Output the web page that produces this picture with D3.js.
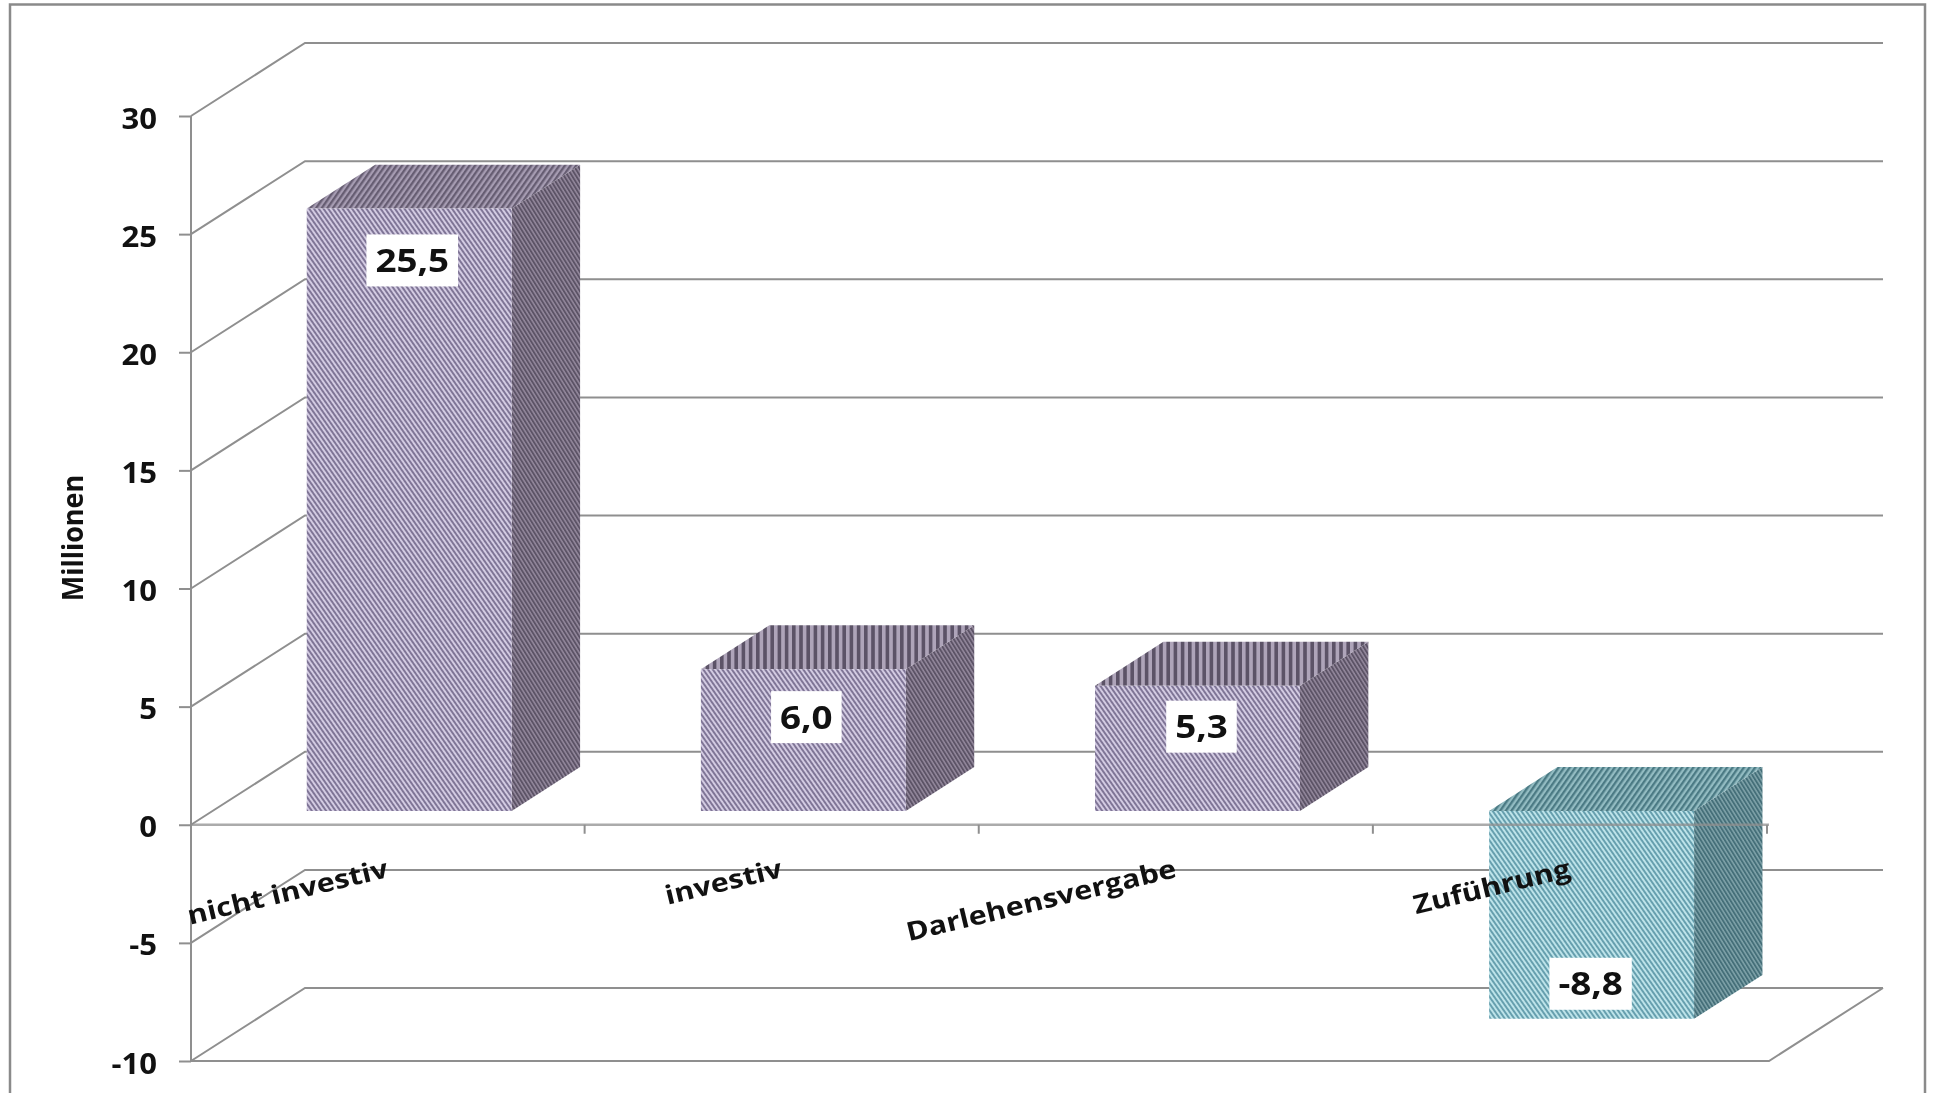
<!DOCTYPE html>
<html><head><meta charset="utf-8">
<script src="https://cdn.jsdelivr.net/npm/d3@7/dist/d3.min.js"></script>
<style>
html,body{margin:0;padding:0;background:#fff;overflow:hidden}
svg{display:block;filter:blur(.5px)}
text{font-family:"Open Sans",sans-serif;font-weight:700;fill:#111}
</style></head><body>
<svg id="c" width="1933" height="1093"></svg>
<script>
const categories = ["nicht investiv","investiv","Darlehensvergabe","Zuführung"];
const values = [25.5, 6.0, 5.3, -8.8];
const valueLabels = ["25,5","6,0","5,3","-8,8"];
const yTicks = [30,25,20,15,10,5,0,-5,-10];
const yTitle = "Millionen";

const W=1933,H=1093, L=190.5, R=1767, T=116, B=1061;
const DX=114, DY=73, D0=.19, D1=.79, GRID="#8f8f8f";
const svg=d3.select("#c");
const defs=svg.append("defs");
const y=d3.scaleLinear().domain([-10,30]).range([B,T]);
const x=d3.scaleBand().domain(categories).range([L,R]).paddingInner(.48).paddingOuter(.24);
const P=(px,py,d)=>[px+d*DX,py-d*DY];
const poly=pts=>pts.map(p=>p.join(",")).join(" ");

function hatch(id,light,dark,angle,period,duty){
  const p=defs.append("pattern").attr("id",id).attr("patternUnits","userSpaceOnUse")
    .attr("width",period).attr("height",period).attr("patternTransform",`rotate(${angle})`);
  p.append("rect").attr("width",period).attr("height",period).attr("fill",light);
  p.append("rect").attr("width",period*duty).attr("height",period).attr("fill",dark);
}
hatch("pf","#d3cbe2","#7f7596",-35,3.9,.5);
hatch("pt","#a69cb2","#665d72",35,4.6,.5);
hatch("pv","#aea4b9","#5c5367",0,7.2,.5);
hatch("ps","#94899d","#5c5366",-32,3.4,.55);
hatch("nf","#bde3e9","#669fae",-35,3.9,.5);
hatch("nt","#93bcc2","#4b7a84",35,4.6,.5);
hatch("ns","#80a3aa","#456f79",-32,3.4,.55);

svg.append("rect").attr("width",W).attr("height",H).attr("fill","#fff");
// frame
svg.append("path").attr("d",`M10,${H+5}V4.5H1925V${H+5}`).attr("fill","none").attr("stroke","#8a8a8a").attr("stroke-width",2.5);

// walls: back gridlines + side diagonals
const g=svg.append("g").attr("fill","none").attr("stroke",GRID).attr("stroke-width",2);
yTicks.forEach(t=>{
  const a=P(L+.5,y(t),0), b=P(L+.5,y(t),1), c=P(R+2,y(t),1);
  g.append("polyline").attr("points",poly([a,b,c]));
});
// floor
g.append("polyline").attr("points",poly([[L,y(-10)],P(R+2,y(-10),0),P(R+2,y(-10),1)]));

// y axis
const ax=svg.append("g").attr("transform",`translate(${L+.5},0)`)
  .call(d3.axisLeft(y).tickValues(yTicks).tickSize(12).tickPadding(23).tickFormat(d=>String(d)));
ax.selectAll("path,line").attr("stroke",GRID).attr("stroke-width",2);
ax.select("path").attr("d",`M0,${y(30)}V${y(-10)}`);
ax.selectAll("text").attr("x",null).attr("dy",null).attr("text-anchor","end")
  .style("font-size","28px")
  .attr("transform","translate(-34,12) scale(1.11,1)");
ax.attr("font-family",null).attr("font-size",null);

// bars
const bars=svg.append("g").selectAll("g").data(values).join("g");
bars.each(function(v,i){
  const c=categories[i], sel=d3.select(this), neg=v<0;
  const x0=x(c), x1=x0+x.bandwidth();
  const yTop=y(Math.max(v,0)), yBot=y(Math.min(v,0));
  const topFill=neg?"url(#nt)":(i===0?"url(#pt)":"url(#pv)");
  sel.append("polygon").attr("fill",neg?"url(#ns)":"url(#ps)")
    .attr("points",poly([P(x1,yTop,D0),P(x1,yTop,D1),P(x1,yBot,D1),P(x1,yBot,D0)]));
  sel.append("polygon").attr("fill",topFill)
    .attr("points",poly([P(x0,yTop,D0),P(x0,yTop,D1),P(x1,yTop,D1),P(x1,yTop,D0)]));
  sel.append("polygon").attr("fill",neg?"url(#nf)":"url(#pf)")
    .attr("points",poly([P(x0,yTop,D0),P(x1,yTop,D0),P(x1,yBot,D0),P(x0,yBot,D0)]));
});

// front zero axis with category tick marks
svg.append("line").attr("x1",L).attr("x2",R+2).attr("y1",y(0)).attr("y2",y(0))
  .attr("stroke",GRID).attr("stroke-width",2.5).attr("stroke-opacity",.75);
categories.forEach(c=>{
  const xt=x(c)+x.bandwidth()+x.paddingOuter()*x.step();
  svg.append("line").attr("x1",xt).attr("x2",xt).attr("y1",y(0)).attr("y2",y(0)+9)
    .attr("stroke",GRID).attr("stroke-width",2);
});

// value labels: placement nudges relative to the bar's free end
const labelInset=[52,48,41,-35], labelShift=[3,3,4,-1];
values.forEach((v,i)=>{
  const cx=x(categories[i])+x.bandwidth()/2+D0*DX+labelShift[i];
  const cy=y(v)+labelInset[i]-D0*DY;
  const lg=svg.append("g").attr("transform",`translate(${cx},${cy})`);
  const r=lg.append("rect").attr("fill","#fff");
  const t=lg.append("text").text(valueLabels[i]).attr("text-anchor","middle")
    .style("font-size","32px").attr("transform","translate(0,11.5) scale(1.15,1)");
  const w=t.node().getComputedTextLength()*1.15+18;
  r.attr("x",-w/2).attr("y",-26).attr("width",w).attr("height",52);
});

// category labels
categories.forEach(c=>{
  svg.append("text").text(c).attr("text-anchor","end").style("font-size","26px")
    .attr("transform",`translate(${x(c)+x.bandwidth()/2+2},${y(0)+52}) rotate(-13.5) scale(1.17,1)`);
});

// axis title
svg.append("text").text(yTitle).attr("text-anchor","middle").style("font-size","26px")
  .attr("transform","translate(83,538) rotate(-90) scale(1.04,1.12)");
</script></body></html>
